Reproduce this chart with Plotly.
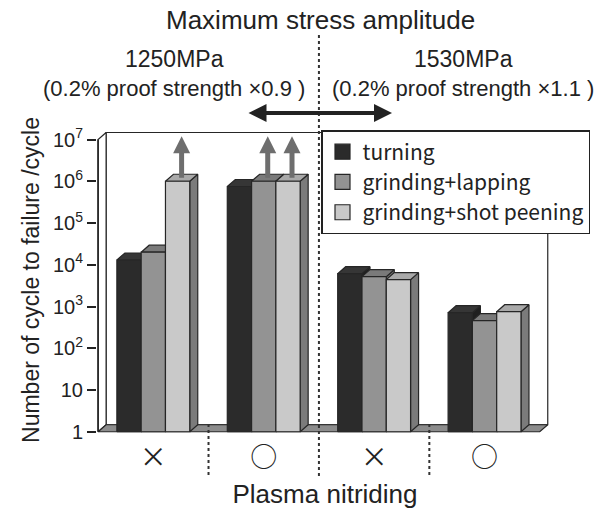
import math
import plotly.graph_objects as go

# ---------------- data ----------------
categories = ["×", "○", "×", "○"]            # plasma nitriding (without / with)
stress_labels = ["1250MPa", "1530MPa"]
stress_notes = ["(0.2% proof strength ×0.9 )", "(0.2% proof strength ×1.1 )"]
series_names = ["turning", "grinding+lapping", "grinding+shot peening"]
turning = [1.3e4, 7.5e5, 6.1e3, 7.1e2]
grinding_lapping = [2.0e4, 1.0e6, 5.2e3, 4.6e2]
grinding_shot_peening = [1.0e6, 1.0e6, 4.4e3, 7.5e2]
runout_turning = [False, False, False, False]
runout_lapping = [False, True, False, False]
runout_peening = [True, True, False, False]
y_tick_vals = [1, 10, 1e2, 1e3, 1e4, 1e5, 1e6, 1e7]
y_tick_text = ["1", "10", "10<sup>2</sup>", "10<sup>3</sup>", "10<sup>4</sup>",
               "10<sup>5</sup>", "10<sup>6</sup>", "10<sup>7</sup>"]

series_values = [turning, grinding_lapping, grinding_shot_peening]
series_runout = [runout_turning, runout_lapping, runout_peening]

# ---------------- style ----------------
W, H = 611, 509
L, R, T, B = 97, 58, 127, 76
X_RANGE = [-0.51, 3.62]
Y_RANGE = [-0.03, 7.3]          # log10 units
PLOT_W = W - L - R
PLOT_H = H - T - B
X_SCALE = PLOT_W / (X_RANGE[1] - X_RANGE[0])
Y_SCALE = PLOT_H / (Y_RANGE[1] - Y_RANGE[0])
DX = 8 / X_SCALE                 # depth offset (data units)
K = 10 ** (7 / Y_SCALE)          # depth offset (log factor)
BW = 0.22
EDGE = "#262626"
FRONT = ["#2b2b2b", "#939393", "#c9c9c9"]
TOP = ["#363636", "#7a7a7a", "#a9a9a9"]
SIDE = ["#1f1f1f", "#6c6c6c", "#7b7b7b"]
FLOOR = "#8c8c8c"
ARROW = "#6e6e6e"
FONT = "Liberation Sans, Arial, sans-serif"
JFONT = "Noto Sans CJK JP, DejaVu Sans, sans-serif"


def px(x, y):
    """pixel -> paper coordinates"""
    return (x - L) / PLOT_W, (H - B - y) / PLOT_H


def poly(xs, ys, fill, width=1.2, color=EDGE):
    return go.Scatter(x=list(xs) + [xs[0]], y=list(ys) + [ys[0]], mode="lines",
                      fill="toself", fillcolor=fill,
                      line=dict(color=color, width=width),
                      hoverinfo="skip", showlegend=False)


fig = go.Figure()

n = len(categories)
x_lo, x_hi = -0.5, n - 0.5
y_top = y_tick_vals[-1]

# back wall
fig.add_trace(poly([x_lo + DX, x_hi + DX, x_hi + DX, x_lo + DX],
                   [K, K, y_top * K, y_top * K], "white"))
# left wall
fig.add_trace(poly([x_lo, x_lo + DX, x_lo + DX, x_lo],
                   [1, K, y_top * K, y_top], "white"))
# floor
fig.add_trace(poly([x_lo, x_hi, x_hi + DX, x_lo + DX], [1, 1, K, K], FLOOR))
# front axis line
fig.add_trace(go.Scatter(x=[x_lo, x_lo], y=[1, y_top], mode="lines",
                         line=dict(color=EDGE, width=1.6),
                         hoverinfo="skip", showlegend=False))

# bars (side, top, front) drawn back to front
for g in range(n):
    for s, vals in enumerate(series_values):
        v = vals[g]
        xl = g + (s - 1.5) * BW
        xr = xl + BW
        fig.add_trace(poly([xr, xr + DX, xr + DX, xr], [1, K, v * K, v], SIDE[s]))
        fig.add_trace(poly([xl, xr, xr + DX, xl + DX], [v, v, v * K, v * K], TOP[s]))
        fig.add_trace(poly([xl, xr, xr, xl], [1, 1, v, v], FRONT[s]))

# run-out arrows
ARROW_TIP = 10 ** 7.08
HEAD = 10 ** (14 / Y_SCALE)
for g in range(n):
    for s, vals in enumerate(series_values):
        if series_runout[s][g]:
            v = vals[g]
            xc = g + (s - 1.0) * BW + DX / 2
            fig.add_trace(go.Scatter(x=[xc, xc], y=[v * math.sqrt(K), ARROW_TIP / HEAD],
                                     mode="lines", line=dict(color=ARROW, width=5),
                                     hoverinfo="skip", showlegend=False))
            fig.add_trace(go.Scatter(x=[xc], y=[ARROW_TIP], mode="markers",
                                     marker=dict(symbol="arrow-up", size=17, color=ARROW,
                                                 line=dict(width=0)),
                                     cliponaxis=False, hoverinfo="skip", showlegend=False))

# legend proxies
for s, name in enumerate(series_names):
    fig.add_trace(go.Scatter(x=[None], y=[None], mode="markers", name=name,
                             marker=dict(symbol="square", size=15, color=FRONT[s],
                                         line=dict(color=EDGE, width=1.2))))

# dotted separators
shapes = []
for i in range(n - 1):
    xs = i + 0.5
    y_start = 35 if i == (n - 1) // 2 else 424
    _, p0 = px(0, y_start)
    _, p1 = px(0, 478)
    shapes.append(dict(type="line", xref="x", yref="paper", x0=xs, x1=xs, y0=p0, y1=p1,
                       line=dict(color="#333333", width=2, dash="dot"), layer="above"))


def label(text, cx, cy, size):
    x, y = px(cx, cy)
    return dict(text=text, x=x, y=y, xref="paper", yref="paper", xanchor="center",
                yanchor="middle", showarrow=False,
                font=dict(size=size, family=FONT, color="#222"))


annotations = [label("Maximum stress amplitude", 320, 20, 26)]
for j, cx in enumerate([174, 463]):
    annotations.append(label(stress_labels[j], cx, 59, 23))
    annotations.append(label(stress_notes[j], cx, 88, 22))
# double-headed arrow
hx, hy = px(392, 113)
annotations.append(dict(text="", x=hx, y=hy, xref="paper", yref="paper", ax=-145, ay=0,
                        showarrow=True, arrowhead=2, arrowside="end+start", arrowsize=0.9,
                        arrowwidth=4, arrowcolor="#222", standoff=0, startstandoff=0))

lx, ly = px(321, 130)
fig.update_layout(
    width=W, height=H, autosize=False,
    margin=dict(l=L, r=R, t=T, b=B, pad=0, autoexpand=False),
    paper_bgcolor="white", plot_bgcolor="white",
    font=dict(family=FONT, color="#222"),
    shapes=shapes, annotations=annotations,
    showlegend=True,
    legend=dict(x=lx, y=ly, xanchor="left", yanchor="top", bgcolor="white",
                bordercolor="#222", borderwidth=1.5,
                font=dict(family=JFONT, size=21, color="#222")),
    xaxis=dict(range=X_RANGE, tickvals=list(range(n)), ticktext=categories,
               showgrid=False, zeroline=False, showline=False, ticks="",
               ticklabelstandoff=6, automargin=False,
               tickfont=dict(family=JFONT, size=27, color="#222"),
               title=dict(text="Plasma nitriding", font=dict(size=26, family=FONT), standoff=16)),
    yaxis=dict(type="log", range=Y_RANGE, tickvals=y_tick_vals, ticktext=y_tick_text,
               showgrid=False, zeroline=False, showline=False, automargin=False,
               ticks="outside", ticklen=9, tickwidth=1.5, tickcolor="#222",
               tickfont=dict(size=20, family=FONT, color="#222"),
               title=dict(text="Number of cycle to failure /cycle",
                          font=dict(size=23, family=FONT), standoff=6)),
)

fig.write_html("out.html")
